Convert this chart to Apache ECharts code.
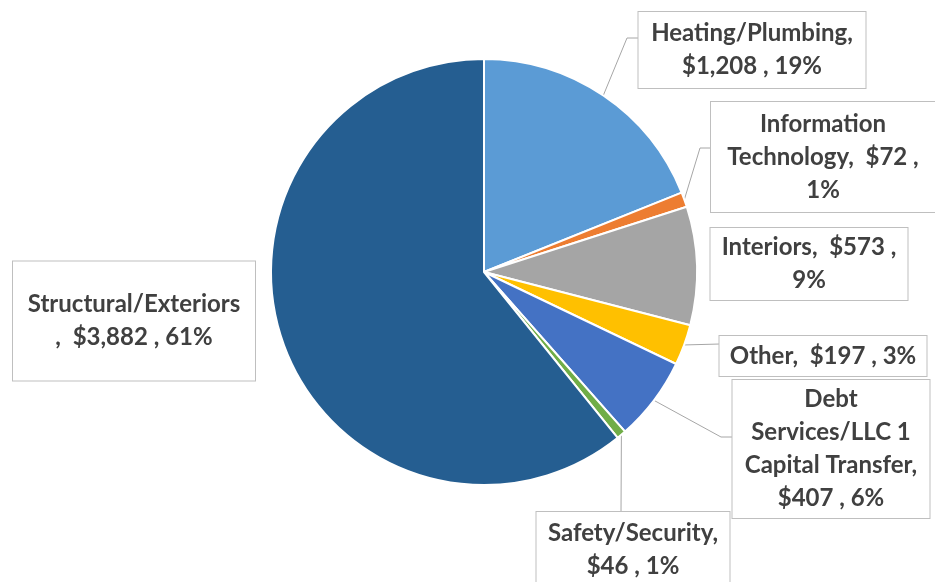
<!DOCTYPE html>
<html>
<head>
<meta charset="utf-8">
<script src="https://cdn.jsdelivr.net/npm/echarts@6/dist/echarts.min.js"></script>
<style>
  html, body { margin: 0; padding: 0; background: #fff; }
  #chart { width: 935px; height: 582px; }
</style>
</head>
<body>
<div id="chart"></div>
<script>
const categories = [
  'Heating/Plumbing',
  'Information\nTechnology',
  'Interiors',
  'Other',
  'Debt\nServices/LLC 1\nCapital Transfer',
  'Safety/Security',
  'Structural/Exteriors'
]
const amounts = [1208, 72, 573, 197, 407, 46, 3882]
const colors = ['#5b9bd5', '#ed7d31', '#a5a5a5', '#ffc000', '#4472c4', '#70ad47', '#255e91']
// where each label wraps after the name
const labelFormats = [
  '{n},\n{v} , {p}',
  '{n},  {v} ,\n{p}',
  '{n},  {v} ,\n{p}',
  '{n},  {v} , {p}',
  '{n},\n{v} , {p}',
  '{n},\n{v} , {p}',
  '{n}\n,  {v} , {p}'
]

// label boxes: centre, size, leader bend points (px)
const labelBoxes = [
  { x: 752, y: 50, w: 227, h: 76, line: [[627, 38], [639, 38]] },
  { x: 823, y: 157, w: 224, h: 110, line: [[700, 148], [711, 148]] },
  { x: 809, y: 264, w: 197, h: 72 },
  { x: 823, y: 356, w: 207, h: 40, line: [[720, 344]] },
  { x: 831, y: 449, w: 197, h: 138, line: [[721, 437], [733, 437]] },
  { x: 633, y: 550, w: 193, h: 76, line: [[621, 512]] },
  { x: 134, y: 321, w: 242, h: 119 }
]

const lineHeight = 33
const total = amounts.reduce((a, b) => a + b, 0)

function labelText(i) {
  const pct = Math.round(amounts[i] / total * 100) + '%'
  return labelFormats[i]
    .replace('{n}', categories[i])
    .replace('{v}', '$' + amounts[i].toLocaleString('en-US'))
    .replace('{p}', pct)
}

const chart = echarts.init(document.getElementById('chart'))

chart.setOption({
  animation: false,
  series: [{
    type: 'pie',
    center: [484, 272],
    radius: 213,
    startAngle: 90,
    clockwise: true,
    avoidLabelOverlap: false,
    emphasis: { disabled: true },
    itemStyle: { borderColor: '#fff', borderWidth: 2 },
    label: {
      show: true,
      position: 'outside',
      color: '#404040',
      fontFamily: 'Lato, sans-serif',
      fontWeight: 'bold',
      fontSize: 24,
      lineHeight: lineHeight,
      backgroundColor: '#fff',
      borderColor: '#bfbfbf',
      borderWidth: 1
    },
    labelLine: {
      show: true,
      smooth: false,
      length: 10,
      length2: 10,
      lineStyle: { color: '#a6a6a6', width: 1 }
    },
    labelLayout: function (params) {
      const b = labelBoxes[params.dataIndex]
      const out = { x: b.x, y: b.y, align: 'center', verticalAlign: 'middle' }
      if (b.line && params.labelLinePoints) {
        out.labelLinePoints = [params.labelLinePoints[0]].concat(b.line)
      }
      return out
    },
    data: amounts.map((v, i) => {
      const text = labelText(i)
      const nLines = text.split('\n').length
      const b = labelBoxes[i]
      return {
        name: categories[i],
        value: v,
        itemStyle: { color: colors[i] },
        label: {
          formatter: text,
          width: b.w,
          padding: [(b.h - nLines * lineHeight) / 2, 0],
          align: 'center'
        },
        labelLine: { show: !!b.line }
      }
    })
  }]
})
</script>
</body>
</html>
